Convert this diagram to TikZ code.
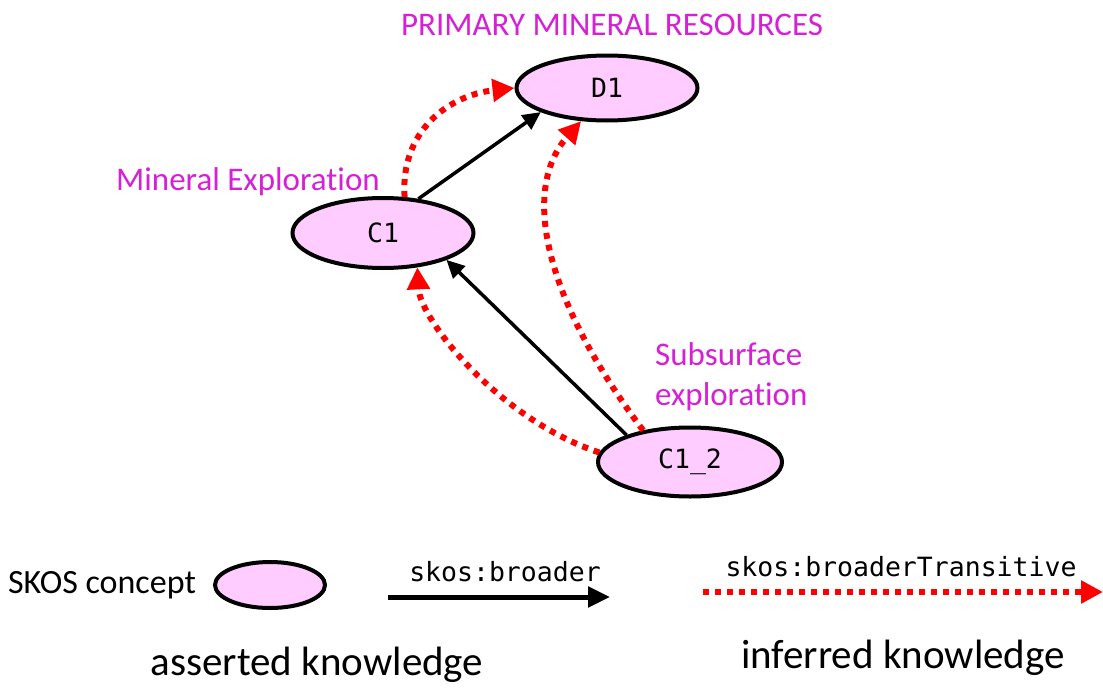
\documentclass[tikz,border=0pt]{standalone}
\usepackage{fontspec}
\setmainfont{Carlito}[Ligatures={NoCommon}]
\setmonofont{DejaVu Sans Mono}
\usetikzlibrary{shapes.geometric,arrows.meta}
\definecolor{conceptfill}{RGB}{255,204,255}
\definecolor{labelmag}{RGB}{214,32,214}
\definecolor{inferred}{RGB}{255,0,0}
\begin{document}
\begin{tikzpicture}[x=1pt,y=-1pt,
  concept/.style={ellipse,draw=black,line width=4pt,fill=conceptfill,inner sep=0pt,
    font=\ttfamily\fontsize{26.5}{30}\selectfont},
  maglabel/.style={inner sep=0pt,text=labelmag,font=\fontsize{33}{40}\selectfont},
  plainlabel/.style={inner sep=0pt,font=\fontsize{34}{40}\selectfont},
  codelabel/.style={inner sep=0pt,font=\ttfamily\fontsize{26.5}{30}\selectfont},
  biglabel/.style={inner sep=0pt,font=\fontsize{41}{48}\selectfont},
  broader/.style={line width=3.5pt,-{Triangle[length=18pt,width=17pt]}},
  transitive/.style={inferred,line width=6pt,dash pattern=on 6pt off 6pt,
    -{Triangle[length=22pt,width=22pt]}}]
\useasboundingbox (0,0) rectangle (1103,688);

% concepts
\node[concept,minimum width=181pt,minimum height=65pt] (D1) at (607,88) {D1};
\node[concept,minimum width=181pt,minimum height=70pt] (C1) at (383,233) {C1};
\node[concept,minimum width=184pt,minimum height=69pt] (C12) at (690,462) {C1\_2};

% concept labels
\node[maglabel] (lD1) at (612,25) {PRIMARY MINERAL RESOURCES};
\node[maglabel] (lC1) at (248,182) {Mineral Exploration};
\node[maglabel,align=left,anchor=west] (lC12) at (655,377) {Subsurface\\exploration};

% asserted skos:broader links
\draw[broader] (C1.44) -- (D1.200);
\draw[broader] (C12.157) -- (C1.337);

% inferred skos:broaderTransitive links
\draw[transitive] (C1.59) .. controls (400,130) and (450,95) .. (D1.180);
\draw[transitive] (C12.146) .. controls (545,300) and (520,190) .. (D1.232);
\draw[transitive] (C12.174) .. controls (500,420) and (420,320) .. (C1.315);

% legend
\node[plainlabel] (lconcept) at (102,585) {SKOS concept};
\node[concept,minimum width=110pt,minimum height=46pt] (legconcept) at (270,585) {};
\node[codelabel] (lbroader) at (505,572) {skos:broader};
\coordinate (bstart) at (388,597);
\coordinate (bend) at (610,597);
\draw[broader,line width=5pt,-{Triangle[length=22pt,width=20pt]}] (bstart) -- (bend);
\node[codelabel] (ltrans) at (901,567) {skos:broaderTransitive};
\coordinate (tstart) at (703,592);
\coordinate (tend) at (1103,592);
\draw[transitive] (tstart) -- (tend);
\node[biglabel] (lasserted) at (317,665) {asserted knowledge};
\node[biglabel] (linferred) at (903,658) {inferred knowledge};
\end{tikzpicture}
\end{document}
